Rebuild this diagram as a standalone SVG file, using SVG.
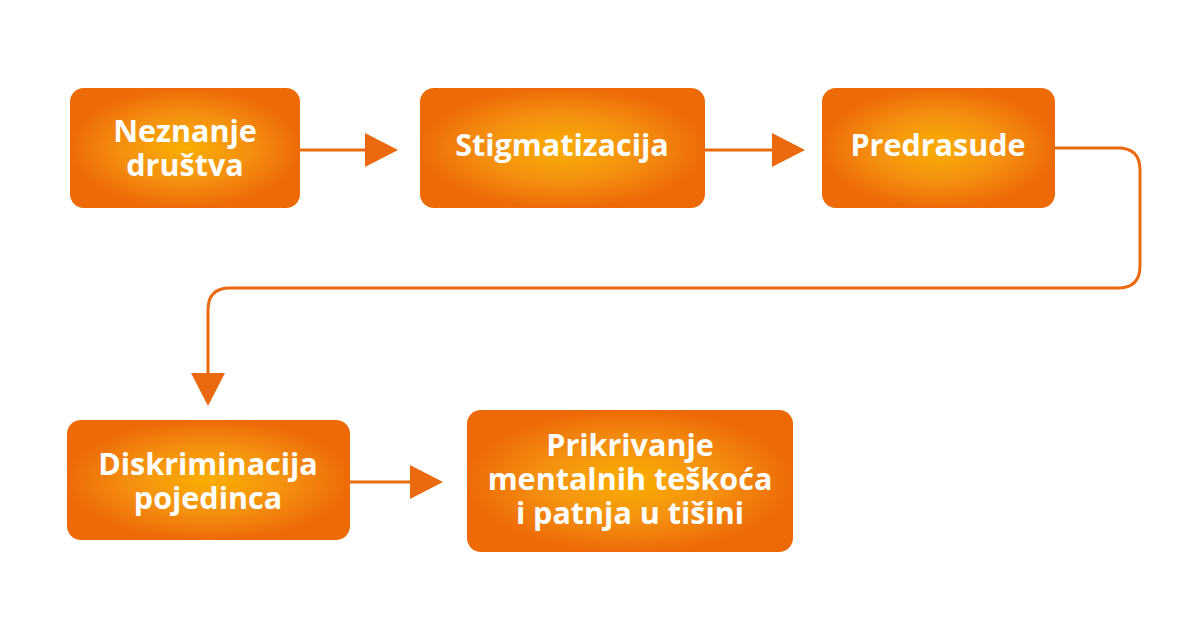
<svg xmlns="http://www.w3.org/2000/svg" width="1200" height="630" viewBox="0 0 1200 630">
<defs>
<radialGradient id="g" cx="50%" cy="50%" r="50%">
<stop offset="0" stop-color="#FAAE00"/>
<stop offset="0.55" stop-color="#F49010"/>
<stop offset="1" stop-color="#EE6A06"/>
</radialGradient>
<marker id="a" viewBox="0 0 34 34" refX="0" refY="17" markerWidth="34" markerHeight="34" markerUnits="userSpaceOnUse" orient="auto">
<path d="M0,0 L33,17 L0,34 Z" fill="#EB6A0F"/>
</marker>
<style>
.b{fill:url(#g)}
.t{fill:#fff;font-family:"Open Sans","Liberation Sans",sans-serif;font-weight:700;font-size:30.5px;text-anchor:middle}
.c{fill:none;stroke:#EB6A0F;stroke-width:3}
</style>
</defs>
<rect width="1200" height="630" fill="#fff"/>
<g id="connectors">
<path class="c" d="M300,150 H365" marker-end="url(#a)"/>
<path class="c" d="M705,150 H772" marker-end="url(#a)"/>
<path class="c" d="M1055,148 H1118 Q1140,148 1140,170 V266 Q1140,288 1118,288 H230 Q208,288 208,310 V373" marker-end="url(#a)"/>
<path class="c" d="M350,482 H410" marker-end="url(#a)"/>
</g>
<g id="n1"><rect class="b" x="70" y="88" width="230" height="120" rx="14"/><text class="t" x="185" y="142">Neznanje</text><text class="t" x="185" y="176">društva</text></g>
<g id="n2"><rect class="b" x="420" y="88" width="285" height="120" rx="14"/><text class="t" x="562" y="156">Stigmatizacija</text></g>
<g id="n3"><rect class="b" x="822" y="88" width="233" height="120" rx="14"/><text class="t" x="938" y="156">Predrasude</text></g>
<g id="n4"><rect class="b" x="67" y="420" width="283" height="120" rx="14"/><text class="t" x="208" y="475">Diskriminacija</text><text class="t" x="208" y="509">pojedinca</text></g>
<g id="n5"><rect class="b" x="467" y="410" width="326" height="142" rx="14"/><text class="t" x="630" y="456">Prikrivanje</text><text class="t" x="630" y="490">mentalnih teškoća</text><text class="t" x="630" y="524">i patnja u tišini</text></g>
</svg>
